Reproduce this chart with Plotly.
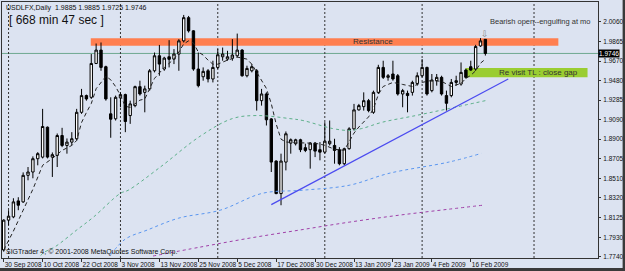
import plotly.graph_objects as go

# ---------------- data ----------------
bar_index = list(range(100))  # trading days 30 Sep 2008 .. 19 Feb 2009
opens = [1.7806,1.8101,1.8133,1.8291,1.8281,1.8543,1.8576,1.8707,1.8723,1.9018,
         1.8723,1.8740,1.8936,1.8838,1.8871,1.8904,1.9165,1.9330,1.9313,1.9647,
         1.9779,1.9615,1.9150,1.9101,1.9307,1.9340,1.9133,1.9231,1.9418,1.9362,
         1.9396,1.9575,1.9723,1.9592,1.9713,1.9690,1.9740,1.9870,2.0099,1.9969,
         1.9592,1.9516,1.9575,1.9494,1.9608,1.9713,1.9690,1.9700,1.9723,1.9779,
         1.9526,1.9575,1.9575,1.9280,1.9346,1.9100,1.8684,1.8363,1.8674,1.8861,
         1.8855,1.8894,1.8816,1.8796,1.8861,1.8796,1.8772,1.8855,1.8838,1.8796,
         1.8658,1.8806,1.9002,1.9189,1.9221,1.9280,1.9165,1.9362,1.9608,1.9510,
         1.9543,1.9526,1.9346,1.9352,1.9362,1.9450,1.9526,1.9608,1.9379,1.9477,
         1.9510,1.9330,1.9330,1.9460,1.9444,1.9582,1.9615,1.9592,1.9820,1.9885]
highs = [1.8110,1.8199,1.8317,1.8327,1.8572,1.8625,1.8730,1.8772,1.9199,1.9025,
         1.8769,1.8956,1.9012,1.8907,1.8969,1.9199,1.9396,1.9340,1.9740,1.9844,
         1.9854,1.9625,1.9313,1.9330,1.9362,1.9349,1.9280,1.9428,1.9477,1.9428,
         1.9592,1.9755,1.9830,1.9713,1.9877,1.9789,1.9887,2.0126,2.0116,1.9975,
         1.9755,1.9608,1.9592,1.9674,1.9789,1.9804,1.9772,1.9887,1.9942,1.9789,
         1.9625,1.9641,1.9592,1.9396,1.9362,1.9108,1.8691,1.8757,1.8976,1.8907,
         1.8904,1.8904,1.8855,1.8871,1.8871,1.8871,1.9067,1.9084,1.8904,1.8821,
         1.8816,1.9018,1.9248,1.9248,1.9362,1.9297,1.9379,1.9634,1.9674,1.9543,
         1.9674,1.9543,1.9396,1.9379,1.9477,1.9559,1.9690,1.9615,1.9543,1.9543,
         1.9526,1.9379,1.9494,1.9526,1.9657,1.9595,1.9674,1.9831,1.9897,1.9885]
lows = [1.7790,1.8052,1.8120,1.8199,1.8271,1.8494,1.8514,1.8642,1.8710,1.8710,
        1.8527,1.8625,1.8821,1.8757,1.8838,1.8887,1.9150,1.9280,1.9297,1.9641,
        1.9575,1.9280,1.8914,1.9084,1.9215,1.8969,1.9051,1.9215,1.9330,1.9165,
        1.9379,1.9559,1.9526,1.9575,1.9608,1.9641,1.9575,1.9854,1.9952,1.9575,
        1.9411,1.9477,1.9460,1.9460,1.9592,1.9674,1.9674,1.9674,1.9706,1.9516,
        1.9510,1.9559,1.9182,1.9231,1.9035,1.8576,1.8357,1.8248,1.8592,1.8757,
        1.8838,1.8772,1.8772,1.8609,1.8723,1.8691,1.8757,1.8838,1.8658,1.8642,
        1.8642,1.8796,1.8986,1.9182,1.9182,1.9165,1.9150,1.9346,1.9494,1.9477,
        1.9477,1.9330,1.9215,1.9165,1.9330,1.9428,1.9510,1.9330,1.9362,1.9428,
        1.9330,1.9182,1.9313,1.9428,1.9428,1.9497,1.9575,1.9575,1.9811,1.9725]
closes = [1.8101,1.8140,1.8281,1.8248,1.8543,1.8576,1.8707,1.8757,1.9025,1.8723,
          1.8747,1.8936,1.8838,1.8871,1.8904,1.9165,1.9330,1.9297,1.9647,1.9779,
          1.9608,1.9297,1.9097,1.9313,1.9340,1.9074,1.9248,1.9418,1.9346,1.9396,
          1.9575,1.9723,1.9641,1.9700,1.9688,1.9740,1.9870,2.0099,1.9969,1.9592,
          1.9428,1.9569,1.9494,1.9608,1.9733,1.9740,1.9713,1.9730,1.9779,1.9526,
          1.9598,1.9615,1.9280,1.9346,1.9091,1.8674,1.8363,1.8684,1.8953,1.8894,
          1.8894,1.8796,1.8789,1.8861,1.8782,1.8772,1.8880,1.8880,1.8789,1.8658,
          1.8806,1.9002,1.9189,1.9231,1.9280,1.9182,1.9362,1.9608,1.9510,1.9526,
          1.9494,1.9346,1.9379,1.9330,1.9460,1.9526,1.9608,1.9346,1.9484,1.9510,
          1.9346,1.9254,1.9460,1.9477,1.9559,1.9510,1.9582,1.9814,1.9870,1.9746]

# fast moving average (dashed)
ma_fast_x = [0,2,4,6,8,10,12,14,15,16,17,18,19,20,21,22,23,24,25,26,28,29,30,31,33,35,36,37,38,39,
             40,41,42,43,44,46,48,50,51,52,53,54,55,56,57,58,60,62,64,66,68,70,71,72,73,75,76,77,78,
             80,82,84,86,88,90,92,94,95,96,97,98,99]
ma_fast_y = [1.7806,1.7993,1.8199,1.8406,1.8642,1.8710,1.8789,1.8838,1.8887,1.9064,1.9163,1.9251,1.9398,
             1.9457,1.9520,1.9486,1.9419,1.9331,1.9224,1.9214,1.9285,1.9296,1.9397,1.9500,1.9607,1.9690,
             1.9760,1.9840,1.9870,1.9850,1.9760,1.9730,1.9680,1.9640,1.9640,1.9680,1.9710,1.9690,1.9640,
             1.9560,1.9480,1.9400,1.9250,1.9050,1.8900,1.8872,1.8865,1.8865,1.8860,1.8840,1.8800,1.8790,
             1.8870,1.8960,1.9020,1.9120,1.9200,1.9340,1.9420,1.9460,1.9440,1.9420,1.9460,1.9480,1.9470,
             1.9420,1.9450,1.9500,1.9530,1.9575,1.9650,1.9690]
# slower moving averages (dotted)
ma_green_x = [7,8,10.5,15,18.5,24,25.6,32.2,40.4,47,52,58.8,61.5,67.6,71,73.6,77.8,84.7,91.5,99]
ma_green_y = [1.7700,1.7773,1.7836,1.8003,1.8133,1.8366,1.8396,1.8625,1.8930,1.9103,1.9133,1.9103,
              1.9084,1.9005,1.8986,1.9005,1.9067,1.9133,1.9202,1.9280]
ma_blue_x = [22,25,29.5,36,44.5,53.2,61.4,71,79.2,91.5,98.2]
ma_blue_y = [1.7760,1.7914,1.8003,1.8121,1.8199,1.8366,1.8396,1.8445,1.8563,1.8674,1.8760]
ma_purple_x = [30.7,40.4,50.6,60.8,71,81.3,91.5,98.6]
ma_purple_y = [1.7747,1.7835,1.7924,1.8003,1.8081,1.8150,1.8209,1.8249]

# objects drawn on the chart
trend_x = [55.0, 103.7]
trend_y = [1.8254, 1.9494]
resist_x = [17.9, 114.0]
resist_y = [1.9821, 1.9897]
gap_x = [94.9, 120.0]
gap_y = [1.9510, 1.9602]
separators = [1, 24, 44, 66, 86, 109]
last_price = 1.9746
arrow_pos = (98.9, 1.9935)

xtick_pos = [0, 8, 16, 24, 32, 40, 48, 56, 64, 72, 80, 88, 96]
xtick_text = ["30 Sep 2008", "10 Oct 2008", "22 Oct 2008", "3 Nov 2008", "13 Nov 2008",
              "25 Nov 2008", "5 Dec 2008", "17 Dec 2008", "30 Dec 2008", "13 Jan 2009",
              "23 Jan 2009", "4 Feb 2009", "16 Feb 2009"]
ytick_vals = [2.0060, 1.9865, 1.9670, 1.9480, 1.9285, 1.9090, 1.8900, 1.8705,
              1.8510, 1.8320, 1.8125, 1.7930, 1.7740]

BG = "#DCE3F1"
FONT = "Liberation Sans"

fig = go.Figure()

fig.add_trace(go.Scatter(x=ma_green_x, y=ma_green_y, mode="lines", line=dict(color="#5DB08A", width=1, dash="dot", shape="spline")))
fig.add_trace(go.Scatter(x=ma_blue_x, y=ma_blue_y, mode="lines", line=dict(color="#5A96F0", width=1, dash="dot", shape="spline")))
fig.add_trace(go.Scatter(x=ma_purple_x, y=ma_purple_y, mode="lines", line=dict(color="#A040A8", width=1, dash="dot", shape="spline")))
fig.add_trace(go.Scatter(x=trend_x, y=trend_y, mode="lines", line=dict(color="#4B4BF0", width=1.2)))

fig.add_trace(go.Candlestick(
    x=bar_index, open=opens, high=highs, low=lows, close=closes,
    increasing=dict(line=dict(color="black", width=1), fillcolor="white"),
    decreasing=dict(line=dict(color="black", width=1), fillcolor="black"),
    whiskerwidth=0,
))
fig.add_trace(go.Scatter(x=ma_fast_x, y=ma_fast_y, mode="lines", line=dict(color="#222222", width=1, dash="4px,3px")))

shapes = []
shapes.append(dict(type="rect", xref="x", yref="y", x0=resist_x[0], x1=resist_x[1], y0=resist_y[0], y1=resist_y[1],
                   fillcolor="#FF7F50", line=dict(width=0), layer="below"))
shapes.append(dict(type="rect", xref="x", yref="y", x0=gap_x[0], x1=gap_x[1], y0=gap_y[0], y1=gap_y[1],
                   fillcolor="#9ACD32", line=dict(width=0), layer="below"))
shapes.append(dict(type="line", xref="paper", yref="y", x0=0, x1=1, y0=last_price, y1=last_price,
                   line=dict(color="#6FA890", width=1), layer="below"))
for s in separators:
    shapes.append(dict(type="line", xref="x", yref="paper", x0=s, x1=s, y0=0, y1=1,
                       line=dict(color="#333333", width=1, dash="2px,2px"), layer="below"))
# dark window edge at the bottom and right of the picture
shapes.append(dict(type="rect", xref="paper", yref="paper", x0=-0.01, x1=1.05, y0=-0.06, y1=-0.0395,
                   fillcolor="#3A3A3A", line=dict(width=0), layer="above"))
shapes.append(dict(type="rect", xref="paper", yref="paper", x0=1.0413, x1=1.05, y0=-0.06, y1=1.01,
                   fillcolor="#3A3A3A", line=dict(width=0), layer="above"))

annotations = [
    dict(xref="paper", yref="paper", x=0.004, y=1.0, xanchor="left", yanchor="top", showarrow=False,
         text="USDLFX,Daily  1.9885 1.9885 1.9725 1.9746", font=dict(family=FONT, size=7, color="#111")),
    dict(xref="paper", yref="paper", x=0.008, y=0.965, xanchor="left", yanchor="top", showarrow=False,
         text="[ 668 min 47 sec ]", font=dict(family=FONT, size=12, color="#111")),
    dict(xref="paper", yref="paper", x=0.004, y=0.0, xanchor="left", yanchor="bottom", showarrow=False,
         text="SIGTrader 4, © 2001-2008 MetaQuotes Software Corp.", font=dict(family=FONT, size=7, color="#111")),
    dict(xref="x", yref="y", x=(resist_x[0] + resist_x[1]) / 2 + 10, y=(resist_y[0] + resist_y[1]) / 2,
         showarrow=False, text="Resistance", font=dict(family=FONT, size=8, color="#333")),
    dict(xref="x", yref="y", x=gap_x[0] + 6.4, y=(gap_y[0] + gap_y[1]) / 2, xanchor="left",
         showarrow=False, text="Re visit TL : close gap", font=dict(family=FONT, size=8, color="#333")),
    dict(xref="x", yref="y", x=99.5, y=2.0062, xanchor="left",
         showarrow=False, text="Bearish open--engulfing at mo", font=dict(family=FONT, size=7.5, color="#333")),
    dict(xref="x", yref="y", x=arrow_pos[0], y=arrow_pos[1], showarrow=False, text="⇩",
         font=dict(family="DejaVu Sans", size=9, color="#888")),
    dict(xref="paper", yref="y", x=1.0, y=last_price, xanchor="left", showarrow=False, text="1.9746",
         bgcolor="black", font=dict(family=FONT, size=6.5, color="white"), borderpad=0),
]

fig.update_layout(
    width=625, height=271,
    margin=dict(l=1, r=25, t=1, b=13),
    paper_bgcolor=BG, plot_bgcolor=BG,
    showlegend=False,
    shapes=shapes, annotations=annotations,
    xaxis=dict(range=[-0.348, 122.15], showgrid=False, zeroline=False, rangeslider=dict(visible=False),
               tickmode="array", tickvals=xtick_pos, ticktext=xtick_text, ticks="outside", ticklen=3,
               tickcolor="#333", ticklabelposition="outside right", tickangle=0,
               tickfont=dict(family=FONT, size=6.5, color="#111"),
               showline=True, linecolor="#333", linewidth=1, mirror=True),
    yaxis=dict(range=[1.77273, 2.02536], side="right", showgrid=False, zeroline=False,
               tickmode="array", tickvals=ytick_vals, ticktext=[f"{v:.4f}" for v in ytick_vals],
               ticks="outside", ticklen=2, tickcolor="#333", ticklabelstandoff=1,
               tickfont=dict(family=FONT, size=6.5, color="#111"),
               showline=True, linecolor="#333", linewidth=1, mirror=True),
)

fig.write_html("out.html")
